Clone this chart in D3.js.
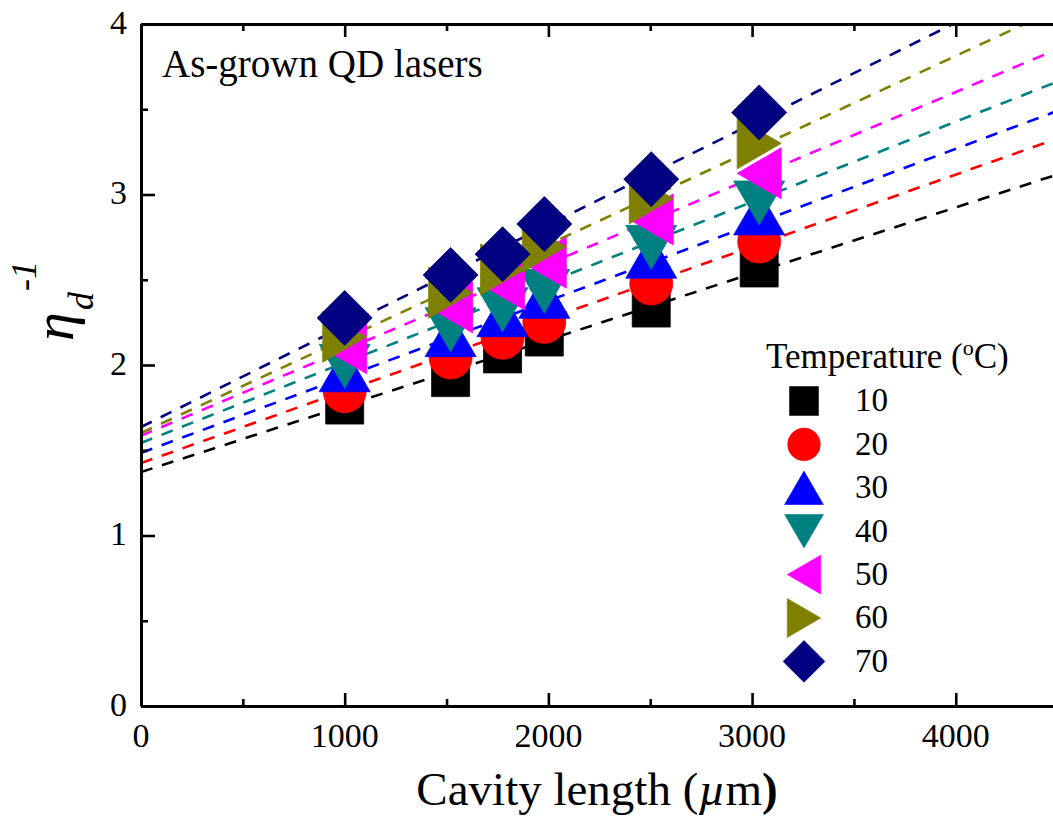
<!DOCTYPE html>
<html>
<head>
<meta charset="utf-8">
<script src="https://cdn.jsdelivr.net/npm/d3@7"></script>
<style>
  body { margin: 0; background: #fff; }
  #wrap { position: relative; width: 1053px; height: 824px; font-family: "Liberation Serif", monospace; color: #000; }
  #wrap svg { position: absolute; left: 0; top: 0; display: block; }
  .lbl { position: absolute; white-space: nowrap; line-height: 1; font-family: "Liberation Serif", monospace; color: #000; }
</style>
</head>
<body>
<div id="wrap"><svg id="fig" width="1053" height="824"></svg></div>
<script>
// Cavity lengths (µm) at which devices were measured
const cavityLengths = [1000, 1520, 1775, 1980, 2505, 3035];
// Temperatures (°C) of each series
const temperatures = [10, 20, 30, 40, 50, 60, 70];
// Inverse differential efficiency at each length, one array per temperature
const inv10 = [1.765, 1.926, 2.065, 2.164, 2.334, 2.569];
const inv20 = [1.846, 2.044, 2.160, 2.253, 2.478, 2.724];
const inv30 = [1.972, 2.178, 2.295, 2.403, 2.638, 2.892];
const inv40 = [1.992, 2.207, 2.324, 2.432, 2.690, 2.950];
const inv50 = [2.098, 2.338, 2.473, 2.600, 2.854, 3.124];
const inv60 = [2.166, 2.424, 2.560, 2.694, 2.977, 3.300];
const inv70 = [2.276, 2.528, 2.650, 2.827, 3.090, 3.481];
// Linear fits: intercept and slope (per µm) for each temperature
const fitIntercepts = [1.372, 1.425, 1.484, 1.543, 1.585, 1.601, 1.636];
const fitSlopes = [3.88e-4, 4.23e-4, 4.46e-4, 4.71e-4, 5.04e-4, 5.53e-4, 5.93e-4];
// Axis ticks
const xMajorTicks = [0, 1000, 2000, 3000, 4000];
const xMinorTicks = [500, 1500, 2500, 3500, 4500];
const yMajorTicks = [0, 1, 2, 3, 4];
const yMinorTicks = [0.5, 1.5, 2.5, 3.5];

const seriesValues = [inv10, inv20, inv30, inv40, inv50, inv60, inv70];
const colors = ["#000000", "#ff0000", "#0000ff", "#008080", "#ff00ff", "#808000", "#000080"];
const shapes = ["square", "circle", "up", "down", "left", "right", "diamond"];

const wrap = d3.select("#wrap");
const svg = d3.select("#fig");
const plotLeft = 141, plotTop = 24, plotBottom = 706;
const xScale = d3.scaleLinear().domain([0, 4500]).range([plotLeft, plotLeft + 916.6]);
const yScale = d3.scaleLinear().domain([0, 4]).range([plotBottom, plotTop]);

// Text label placed by its baseline; anchor: start | middle | end
const ASC = 0.8375; // baseline offset (em) inside a line-height:1 box
function label(parent, html, x, baseline, size, anchor) {
  const shift = anchor === "middle" ? "-50%" : anchor === "end" ? "-100%" : "0";
  return parent.append("div").attr("class", "lbl")
    .style("left", x + "px").style("top", (baseline - ASC * size) + "px")
    .style("font-size", size + "px")
    .style("transform", `translateX(${shift})`)
    .html(html);
}

// Marker path generator; k scales the marker (plot vs legend)
function markerPath(shape, k) {
  const p = d3.path();
  if (shape === "square") {
    const s = 38 * k; p.rect(-s / 2, -s / 2, s, s);
  } else if (shape === "circle") {
    p.arc(0, 0, 21.5 * k, 0, 2 * Math.PI);
  } else if (shape === "diamond") {
    const d = 27.5 * k;
    p.moveTo(0, -d); p.lineTo(d, 0); p.lineTo(0, d); p.lineTo(-d, 0);
  } else {
    const w = 51 * k / 2, h = 44 * k / 2;
    if (shape === "up") { p.moveTo(0, -h); p.lineTo(w, h); p.lineTo(-w, h); }
    if (shape === "down") { p.moveTo(0, h); p.lineTo(w, -h); p.lineTo(-w, -h); }
    if (shape === "left") { p.moveTo(-h, 0); p.lineTo(h, -w); p.lineTo(h, w); }
    if (shape === "right") { p.moveTo(h, 0); p.lineTo(-h, -w); p.lineTo(-h, w); }
  }
  p.closePath();
  return p.toString();
}

// Clip region for fit lines
svg.append("defs").append("clipPath").attr("id", "plotClip")
  .append("rect").attr("x", plotLeft).attr("y", plotTop)
  .attr("width", xScale(4500) - plotLeft).attr("height", plotBottom - plotTop);

// Dashed linear fits
const fitLine = d3.line().x(d => xScale(d[0])).y(d => yScale(d[1]));
const fits = svg.append("g").attr("clip-path", "url(#plotClip)");
temperatures.forEach((t, i) => {
  const pts = [0, 4500].map(x => [x, fitIntercepts[i] + fitSlopes[i] * x]);
  fits.append("path").attr("d", fitLine(pts))
    .attr("fill", "none").attr("stroke", colors[i])
    .attr("stroke-width", 2.6).attr("stroke-dasharray", "12,10");
});

// Data markers
const markers = svg.append("g");
temperatures.forEach((t, i) => {
  markers.append("g").selectAll("path")
    .data(cavityLengths.map((L, j) => [L, seriesValues[i][j]]))
    .join("path")
    .attr("d", markerPath(shapes[i], 1))
    .attr("transform", d => `translate(${xScale(d[0])},${yScale(d[1])})`)
    .attr("fill", colors[i])
    .attr("stroke", colors[i]).attr("stroke-width", 0.8);
});

// Axes: inward ticks drawn by d3, labels set as text boxes below
function styleAxis(g) {
  g.selectAll(".domain").attr("stroke", "#000").attr("stroke-width", 3);
  g.selectAll(".tick line").attr("stroke", "#000").attr("stroke-width", 2.6);
  g.selectAll(".tick text").remove();
}
function addAxis(axis, transform, values, size, keepDomain) {
  const g = svg.append("g").attr("transform", transform)
    .call(axis.tickValues(values).tickFormat("").tickSizeInner(-size).tickSizeOuter(0))
    .call(styleAxis);
  if (!keepDomain) g.select(".domain").remove();
}
addAxis(d3.axisBottom(xScale), `translate(0,${plotBottom})`, xMajorTicks, 13, true);
addAxis(d3.axisBottom(xScale), `translate(0,${plotBottom})`, xMinorTicks, 7, false);
addAxis(d3.axisTop(xScale), `translate(0,${plotTop})`, xMajorTicks, 13, true);
addAxis(d3.axisTop(xScale), `translate(0,${plotTop})`, xMinorTicks, 7, false);
addAxis(d3.axisLeft(yScale), `translate(${plotLeft},0)`, yMajorTicks, 14, true);
addAxis(d3.axisLeft(yScale), `translate(${plotLeft},0)`, yMinorTicks, 7, false);

// Right frame edge
svg.append("line").attr("x1", xScale(4500)).attr("x2", xScale(4500))
  .attr("y1", plotTop).attr("y2", plotBottom).attr("stroke", "#000").attr("stroke-width", 3);

// Tick labels
xMajorTicks.forEach(v => label(wrap, d3.format("d")(v), xScale(v), 747, 34, "middle"));
yMajorTicks.forEach(v => label(wrap, d3.format("d")(v), 127, yScale(v) + 10, 34, "end"));

// X axis title
label(wrap, 'Cavity length (<i>µ</i>m<b>)</b>', 597, 805, 47, "middle");

// Y axis title: η_d^-1, rotated to read upward
const yt = wrap.append("div")
  .style("position", "absolute").style("left", "74px").style("top", "341px")
  .style("width", "0").style("height", "0")
  .style("transform-origin", "0 0").style("transform", "rotate(-90deg)");
label(yt, "η", 0, 0, 58, "start").style("font-style", "italic");
label(yt, "d", 31, 19, 36, "start").style("font-style", "italic");
label(yt, "-1", 50, -38, 36, "start").style("font-style", "italic");

// Inset title
label(wrap, "As-grown QD lasers", 162, 77, 39, "start");

// Legend
label(wrap, 'Temperature (<span style="font-size:22px;position:relative;top:-13px">o</span>C)',
  766, 368, 35, "start");
const lg = svg.append("g");
temperatures.forEach((t, i) => {
  const yb = 412 + 43.4 * i;
  lg.append("path").attr("d", markerPath(shapes[i], 0.76))
    .attr("transform", `translate(804,${yb - 11})`)
    .attr("fill", colors[i]).attr("stroke", colors[i]).attr("stroke-width", 0.6);
  label(wrap, String(t), 855, yb, 33, "start");
});
</script>
</body>
</html>
